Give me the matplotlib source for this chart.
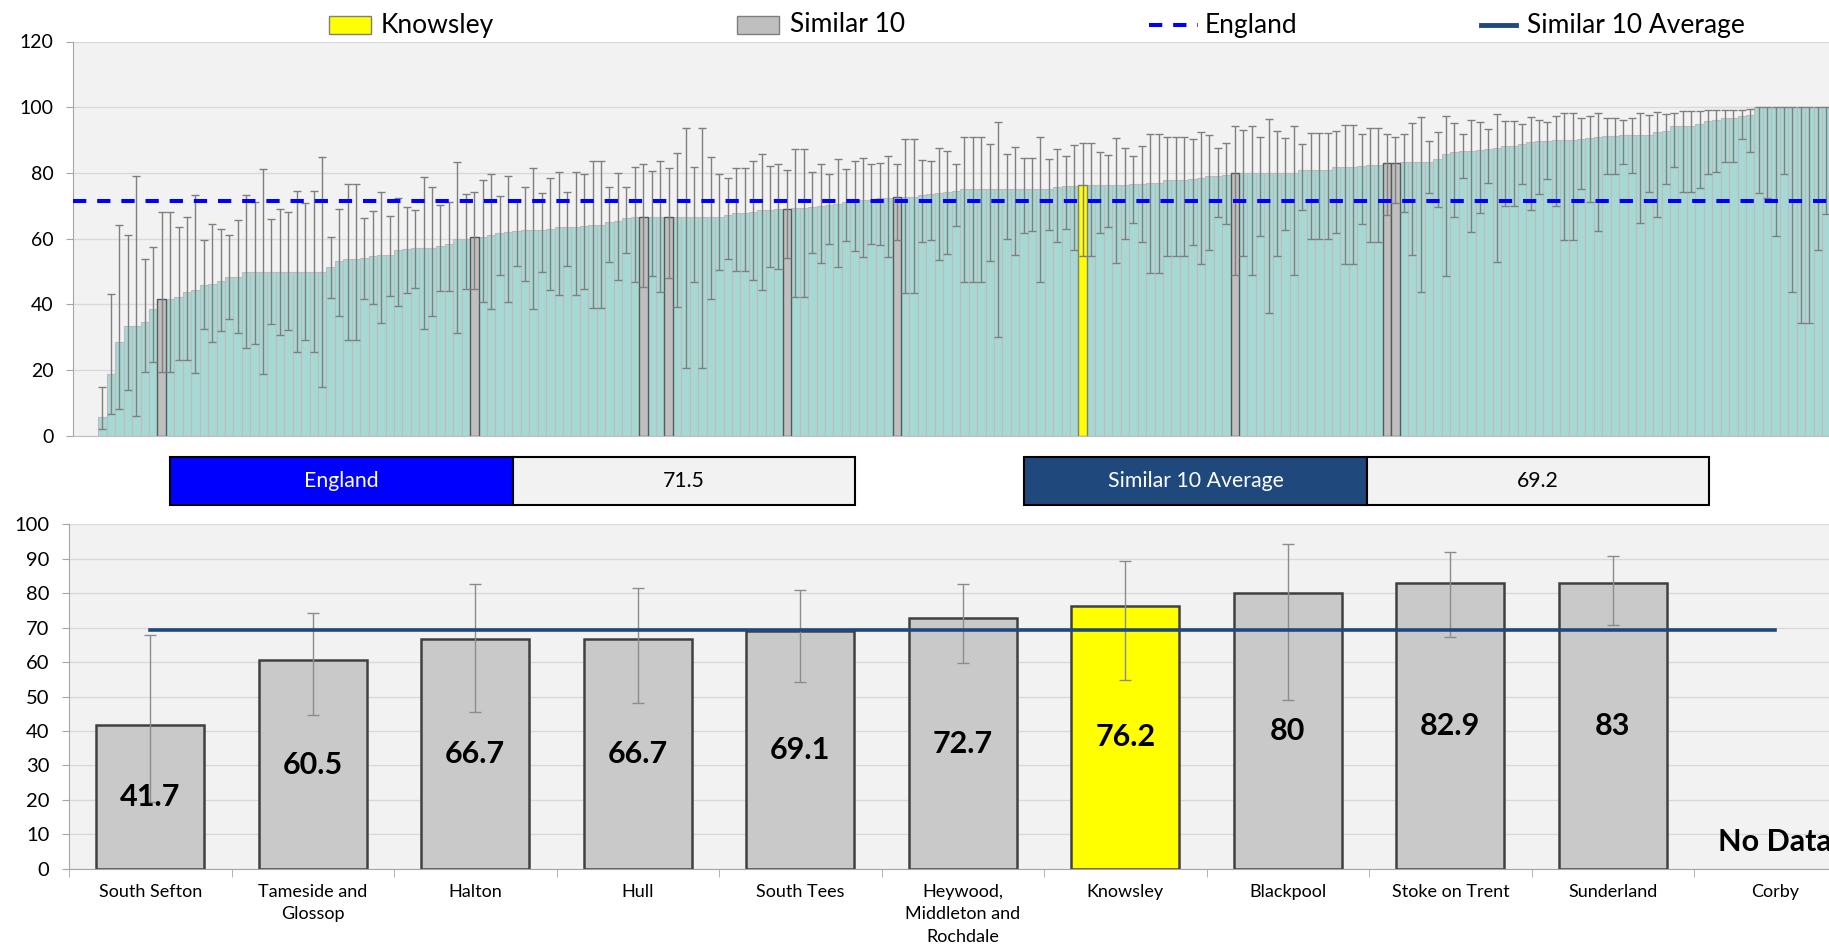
import matplotlib.pyplot as plt
import matplotlib.patches as mpatches
from matplotlib.lines import Line2D
import numpy as np

plt.rcParams['font.family'] = ['Lato', 'DejaVu Sans']

# Top chart: every area, sorted by value, with its confidence interval
values = [5.7, 18.8, 28.5, 33.5, 33.5, 34.6, 38.5, 41.7, 41.7, 42.2,
          43.7, 44.4, 45.8, 46.1, 47.3, 48.3, 48.3, 50.0, 50.0, 50.0,
          50.0, 50.0, 50.0, 50.0, 50.0, 50.0, 50.0, 51.4, 53.1, 53.9,
          53.9, 54.2, 54.8, 55.0, 55.0, 56.6, 56.9, 57.1, 57.1, 57.1,
          57.7, 58.3, 59.9, 59.9, 60.5, 60.6, 61.2, 61.8, 62.1, 62.5,
          62.6, 62.6, 62.6, 62.9, 63.7, 63.7, 63.7, 63.9, 64.2, 64.2,
          65.1, 65.5, 66.2, 66.5, 66.7, 66.7, 66.7, 66.7, 66.7, 66.7,
          66.7, 66.7, 66.7, 66.7, 67.2, 67.8, 67.8, 68.2, 68.7, 68.8,
          69.0, 69.1, 69.3, 69.3, 69.6, 69.9, 70.4, 70.7, 71.1, 71.5,
          71.7, 71.9, 72.3, 72.5, 72.7, 72.7, 72.7, 73.3, 73.6, 73.9,
          74.1, 74.4, 75.0, 75.0, 75.0, 75.0, 75.0, 75.0, 75.0, 75.0,
          75.0, 75.0, 75.0, 75.7, 76.0, 76.0, 76.2, 76.2, 76.2, 76.4,
          76.4, 76.4, 76.6, 76.6, 76.9, 76.9, 77.8, 77.8, 77.8, 78.3,
          78.6, 79.1, 79.1, 79.4, 80.0, 80.0, 80.0, 80.0, 80.0, 80.0,
          80.0, 80.0, 80.8, 80.8, 80.8, 80.8, 81.7, 81.7, 81.7, 82.2,
          82.4, 82.4, 82.9, 83.0, 83.2, 83.2, 83.2, 83.2, 84.2, 85.7,
          86.3, 86.6, 86.6, 86.9, 87.2, 87.5, 88.1, 88.1, 88.8, 89.4,
          89.6, 89.8, 90.0, 90.0, 90.0, 90.3, 90.6, 91.0, 91.2, 91.2,
          91.5, 91.5, 91.7, 91.7, 92.5, 92.9, 94.4, 94.4, 94.4, 94.9,
          95.8, 96.1, 96.7, 96.7, 97.2, 97.6, 100, 100, 100, 100,
          100, 100, 100, 100, 100]
lower = [2.0, 6.6, 8.2, 13.9, 6.2, 19.4, 22.4, 19.4, 19.4, 23.1,
         23.1, 19.1, 32.6, 28.7, 32.0, 35.5, 31.4, 26.9, 28.0, 18.8,
         34.2, 30.7, 32.2, 25.4, 29.1, 25.4, 15.0, 42.1, 36.5, 29.1,
         29.1, 41.7, 40.1, 34.3, 42.6, 39.4, 43.4, 44.9, 32.6, 36.6,
         44.2, 44.2, 31.2, 44.7, 44.7, 40.7, 38.5, 49.0, 40.9, 51.7,
         47.0, 38.5, 49.9, 44.3, 43.0, 51.6, 43.0, 44.6, 38.9, 38.9,
         52.8, 47.5, 55.7, 46.8, 45.4, 48.7, 43.7, 48.0, 39.1, 20.8,
         46.8, 20.8, 41.7, 50.4, 53.8, 50.2, 50.2, 47.4, 44.4, 51.4,
         50.8, 54.1, 42.4, 42.4, 55.6, 52.7, 58.3, 51.4, 59.2, 56.2,
         54.6, 58.3, 58.1, 54.3, 59.7, 43.4, 43.4, 59.0, 59.7, 53.5,
         55.3, 63.9, 46.8, 46.8, 46.8, 53.1, 30.0, 59.8, 55.0, 61.9,
         62.3, 46.8, 62.8, 58.9, 63.1, 56.5, 54.9, 54.9, 61.6, 63.7,
         52.7, 59.9, 64.9, 59.1, 49.7, 49.7, 54.8, 54.8, 54.8, 58.1,
         52.4, 56.7, 66.6, 64.5, 49.0, 54.8, 49.0, 60.8, 37.5, 54.8,
         62.7, 49.0, 68.7, 59.9, 59.9, 59.9, 61.6, 52.2, 52.2, 64.4,
         58.9, 58.9, 67.3, 70.8, 68.2, 55.2, 43.7, 73.9, 69.6, 48.6,
         66.6, 78.4, 62.1, 67.8, 76.9, 52.9, 70.1, 70.1, 76.6, 68.7,
         73.5, 78.3, 70.0, 59.5, 59.5, 75.1, 71.2, 62.3, 79.6, 79.6,
         82.6, 80.0, 64.7, 74.1, 66.6, 76.7, 81.9, 74.1, 74.1, 75.4,
         79.7, 80.4, 83.3, 83.3, 90.3, 86.4, 74.0, 72.3, 60.9, 79.6,
         43.8, 34.3, 34.3, 56.5, 67.5]
upper = [15.0, 43.1, 64.2, 61.0, 79.2, 53.9, 57.6, 68.0, 68.0, 63.7,
         66.7, 73.3, 59.6, 64.6, 62.9, 61.1, 65.6, 73.2, 71.3, 81.2,
         65.9, 69.2, 68.0, 74.6, 70.8, 74.6, 85.0, 60.6, 69.1, 76.8,
         76.8, 66.2, 68.3, 74.1, 66.8, 72.5, 69.6, 68.7, 78.7, 75.6,
         70.2, 71.3, 83.2, 73.5, 74.3, 77.8, 79.6, 72.9, 79.2, 71.9,
         75.8, 81.4, 73.8, 78.5, 80.2, 74.1, 80.2, 79.7, 83.6, 83.6,
         75.7, 80.0, 75.6, 81.9, 82.8, 80.7, 83.8, 81.4, 86.2, 93.8,
         81.9, 93.8, 84.8, 79.7, 78.4, 81.4, 81.4, 83.7, 85.8, 82.0,
         82.6, 80.9, 87.4, 87.4, 80.4, 82.7, 79.8, 84.2, 81.1, 83.5,
         84.5, 82.6, 83.1, 85.3, 82.7, 90.3, 90.3, 84.1, 83.8, 87.5,
         86.8, 82.6, 91.1, 91.1, 91.1, 88.7, 95.4, 85.8, 88.0, 84.7,
         84.5, 91.1, 84.2, 87.2, 85.3, 88.4, 89.2, 89.2, 86.4, 85.6,
         90.5, 87.5, 85.2, 88.1, 91.8, 91.8, 90.9, 90.9, 90.9, 90.4,
         92.4, 91.5, 87.5, 89.2, 94.4, 93.0, 94.3, 91.1, 96.3, 92.9,
         90.5, 94.3, 88.9, 92.3, 92.3, 92.3, 92.7, 94.7, 94.7, 92.0,
         93.8, 93.8, 91.9, 90.8, 92.0, 95.2, 97.0, 89.8, 92.5, 97.4,
         95.2, 92.0, 96.2, 95.4, 93.4, 97.8, 95.8, 95.8, 95.0, 97.0,
         96.2, 95.4, 97.2, 98.1, 98.1, 96.7, 97.3, 98.4, 96.6, 96.6,
         96.0, 96.6, 98.4, 97.6, 98.7, 97.8, 98.4, 99.0, 99.0, 99.0,
         99.2, 99.2, 99.3, 99.3, 99.2, 99.5, 100, 100, 100, 100,
         100, 100, 100, 100, 100]

# positions of the similar 10 and of Knowsley in the sorted list
similar_idx = [7, 44, 64, 67, 81, 94, 134, 152, 153]
knowsley_idx = 116

england_value = 71.5
similar_avg = 69.2

# Bottom chart: the similar 10
names = ['South Sefton', 'Tameside and\nGlossop', 'Halton', 'Hull', 'South Tees',
         'Heywood,\nMiddleton and\nRochdale', 'Knowsley', 'Blackpool',
         'Stoke on Trent', 'Sunderland', 'Corby']
sim_values = [41.7, 60.5, 66.7, 66.7, 69.1, 72.7, 76.2, 80, 82.9, 83, None]
sim_lower = [19.4, 44.7, 45.4, 48.0, 54.1, 59.7, 54.9, 49.0, 67.3, 70.8, None]
sim_upper = [68.0, 74.3, 82.8, 81.4, 80.9, 82.7, 89.2, 94.4, 91.9, 90.8, None]

W, H = 1829, 950


def box(l, t, r, b):
    # pixel box -> figure fraction
    return [l / W, 1 - b / H, (r - l) / W, (b - t) / H]


fig = plt.figure(figsize=(W / 100, H / 100), dpi=100)

teal = '#A6D9D4'
navy = '#1F497D'
grid_c = '#D9D9D9'

# ---------- top chart ----------
ax1 = fig.add_axes(box(73, 41.5, 1829, 436))
ax1.set_facecolor('#F2F2F2')
x = np.arange(len(values))
v = np.array(values)
lo = np.array(lower)
hi = np.array(upper)

ax1.bar(x, v, width=1.0, color=teal, edgecolor='#C4B8BC', linewidth=0.8, zorder=2)
ax1.bar(x[similar_idx], v[similar_idx], width=1.0, color='#BFBFBF',
        edgecolor='#595959', linewidth=1.0, zorder=3)
ax1.bar(x[knowsley_idx], v[knowsley_idx], width=1.0, color='#FFFF00',
        edgecolor='#7F7F7F', linewidth=1.0, zorder=3)
ax1.errorbar(x, v, yerr=[v - lo, hi - v], fmt='none', ecolor='#7F7F7F',
             elinewidth=1.0, capsize=3, capthick=1.0, zorder=4)
ax1.axhline(england_value, color='#0000FF', lw=2.9, dashes=(3.3, 2.7), zorder=5)

ax1.set_yticks(range(0, 121, 20))
ax1.set_xticks([])
ax1.set_xlim(-3.49, 204.32)
ax1.set_ylim(0, 120)
ax1.grid(axis='y', color=grid_c, lw=1.0, zorder=0)
ax1.set_axisbelow(True)
for s in ['top', 'right']:
    ax1.spines[s].set_visible(False)
ax1.spines['left'].set_color('#A6A6A6')
ax1.spines['bottom'].set_color('#BFBFBF')
ax1.tick_params(axis='y', length=5, color='#A6A6A6', labelsize=14, pad=9)

# ---------- legend across the top ----------
ly = 1 - 25 / H
fig.add_artist(mpatches.Rectangle((329 / W, 1 - 34 / H), 42 / W, 18 / H,
                                  facecolor='#FFFF00', edgecolor='#7F7F7F', lw=1,
                                  transform=fig.transFigure))
fig.text(381 / W, ly, 'Knowsley', fontsize=19, va='center')
fig.add_artist(mpatches.Rectangle((737 / W, 1 - 34 / H), 42 / W, 18 / H,
                                  facecolor='#BFBFBF', edgecolor='#7F7F7F', lw=1,
                                  transform=fig.transFigure))
fig.text(790 / W, ly, 'Similar 10', fontsize=19, va='center')
fig.add_artist(Line2D([1149 / W, 1198 / W], [1 - 24.5 / H] * 2, color='#0000FF',
                      lw=2.9, dashes=(3.3, 2.7), transform=fig.transFigure))
fig.text(1205 / W, ly, 'England', fontsize=19, va='center')
fig.add_artist(Line2D([1481 / W, 1516 / W], [1 - 24.5 / H] * 2, color=navy,
                      lw=3.5, transform=fig.transFigure))
fig.text(1527 / W, ly, 'Similar 10 Average', fontsize=19, va='center')

# ---------- value boxes ----------
def value_box(l, m, r, label, colour, value):
    t, b = 457, 505
    fig.add_artist(mpatches.Rectangle((l / W, 1 - b / H), (m - l) / W, (b - t) / H,
                                      facecolor=colour, edgecolor='black', lw=1.5,
                                      transform=fig.transFigure))
    fig.add_artist(mpatches.Rectangle((m / W, 1 - b / H), (r - m) / W, (b - t) / H,
                                      facecolor='#F2F2F2', edgecolor='black', lw=1.5,
                                      transform=fig.transFigure))
    fig.text((l + m) / 2 / W, 1 - (t + b) / 2 / H, label, color='white',
             fontsize=15.3, ha='center', va='center')
    fig.text((m + r) / 2 / W, 1 - (t + b) / 2 / H, f'{value:g}', color='black',
             fontsize=15.3, ha='center', va='center')


value_box(170, 513, 855, 'England', '#0000FF', england_value)
value_box(1024, 1367, 1709, 'Similar 10 Average', navy, similar_avg)

# ---------- bottom chart ----------
ax2 = fig.add_axes(box(69, 524.3, 1829, 868.7))
ax2.set_facecolor('#F2F2F2')
pos = np.arange(len(names))
for i, val in enumerate(sim_values):
    if val is None:
        ax2.text(i, 7.8, 'No Data', fontsize=22, fontweight='bold',
                 ha='center', va='center', zorder=6)
        continue
    colour = '#FFFF00' if names[i] == 'Knowsley' else '#C9C9C9'
    ax2.bar(i, val, width=0.666, color=colour, edgecolor='#404040',
            linewidth=1.8, zorder=2)
    ax2.errorbar(i, val, yerr=[[val - sim_lower[i]], [sim_upper[i] - val]],
                 fmt='none', ecolor='#8C8C8C', elinewidth=1.0, capsize=4,
                 capthick=1.0, zorder=4)
    ax2.text(i, val / 2, f'{val:g}', fontsize=22, fontweight='bold',
             ha='center', va='center', zorder=6)

ax2.plot([0, len(names) - 1], [similar_avg] * 2, color=navy, lw=2.6, zorder=5)

ax2.set_yticks(range(0, 101, 10))
ax2.set_xticks(pos)
ax2.set_xticklabels(names, fontsize=13, linespacing=1.5)
ax2.set_xticks(np.arange(-0.5, len(names) - 1, 1), minor=True)
# limits after the ticks, so set_xticks does not widen the view
ax2.set_xlim(-0.5, 10.33)
ax2.set_ylim(0, 100)
ax2.tick_params(axis='x', which='major', length=0, pad=11)
ax2.tick_params(axis='x', which='minor', length=6, color='#A6A6A6')
ax2.tick_params(axis='y', length=5, color='#A6A6A6', labelsize=14.5, pad=9)
ax2.grid(axis='y', color=grid_c, lw=1.0, zorder=0)
ax2.set_axisbelow(True)
for s in ['top', 'right']:
    ax2.spines[s].set_visible(False)
ax2.spines['left'].set_color('#A6A6A6')
ax2.spines['bottom'].set_color('#A6A6A6')

fig.savefig('out.png', dpi=100)
